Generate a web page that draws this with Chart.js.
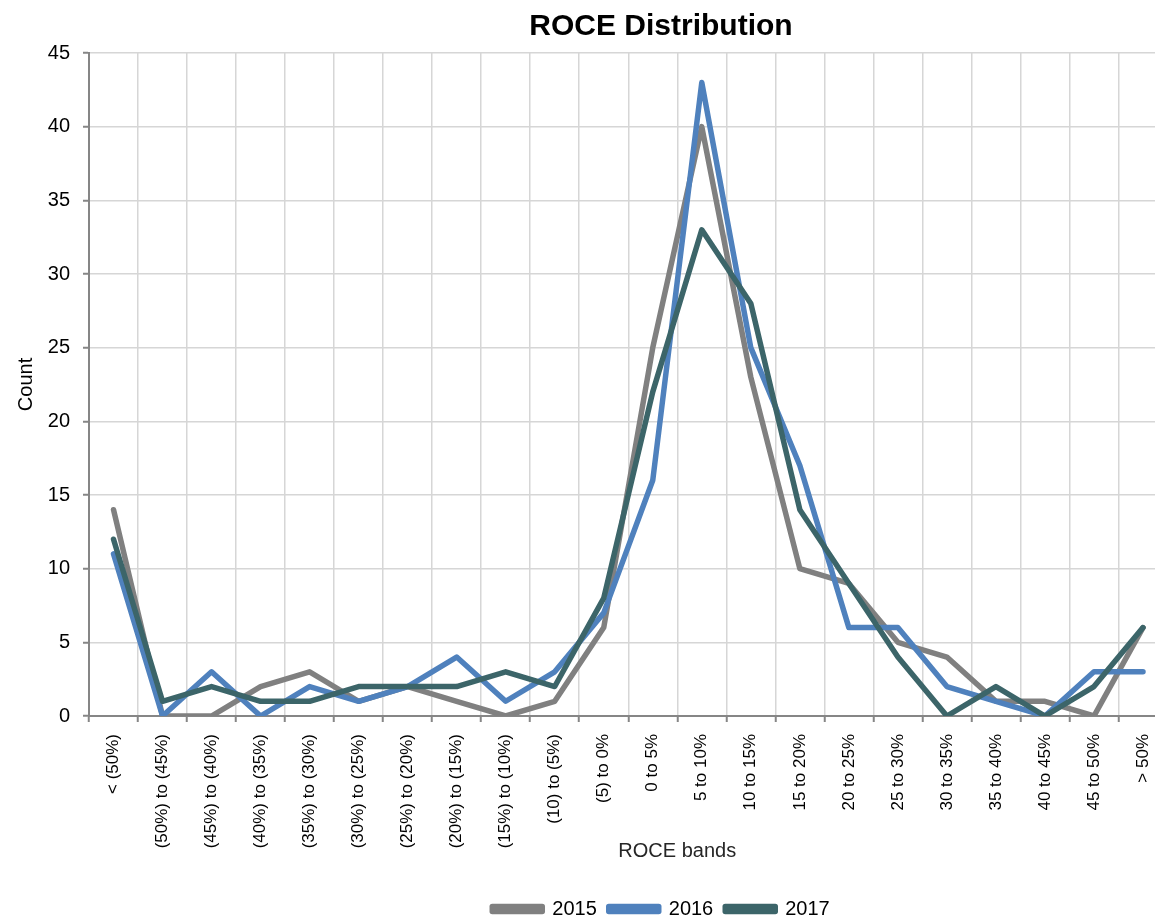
<!DOCTYPE html>
<html>
<head>
<meta charset="utf-8">
<script src="https://cdn.jsdelivr.net/npm/chart.js@4/dist/chart.umd.min.js"></script>
<style>
  html, body { margin: 0; padding: 0; background: #ffffff; overflow: hidden; }
  #wrap { width: 1322px; height: 916px; }
</style>
</head>
<body>
<div id="wrap"><canvas id="roce" width="1322" height="916"></canvas></div>
<script>
// ROCE bands (category axis)
const categories = [
  '< (50%)', '(50%) to (45%)', '(45%) to (40%)', '(40%) to (35%)', '(35%) to (30%)',
  '(30%) to (25%)', '(25%) to (20%)', '(20%) to (15%)', '(15%) to (10%)', '(10) to (5%)',
  '(5) to 0%', '0 to 5%', '5 to 10%', '10 to 15%', '15 to 20%', '20 to 25%',
  '25 to 30%', '30 to 35%', '35 to 40%', '40 to 45%', '45 to 50%', '> 50%'
];

// Company counts per band, by year
const counts2015 = [14, 0, 0, 2, 3, 1, 2, 1, 0, 1, 6, 25, 40, 23, 10, 9, 5, 4, 1, 1, 0, 6];
const counts2016 = [11, 0, 3, 0, 2, 1, 2, 4, 1, 3, 7, 16, 43, 25, 17, 6, 6, 2, 1, 0, 3, 3];
const counts2017 = [12, 1, 2, 1, 1, 2, 2, 2, 3, 2, 8, 22, 33, 28, 14, 9, 4, 0, 2, 0, 2, 6];

const seriesNames = ['2015', '2016', '2017'];
const yTicks = [0, 5, 10, 15, 20, 25, 30, 35, 40, 45];

const FONT = '"Century Gothic", "Liberation Sans", Arial, sans-serif';
const AXIS_GREY = '#868686';
const GRID_GREY = '#d6d6d6';

const PLOT_BOTTOM = 716;
const BOTTOM_PAD = -13;

function lineSet(label, data, color, order) {
  return {
    label, data, order,
    borderColor: color,
    backgroundColor: color,
    borderWidth: 5.5,
    borderCapStyle: 'round',
    borderJoinStyle: 'round',
    pointRadius: 0,
    pointHoverRadius: 0,
    tension: 0,
    fill: false
  };
}

// Axis title under the rotated band labels
const bandsTitle = {
  id: 'bandsTitle',
  afterDraw(chart) {
    const x = chart.scales.x;
    const ctx = chart.ctx;
    ctx.save();
    ctx.font = '20px ' + FONT;
    ctx.fillStyle = '#262626';
    ctx.textAlign = 'center';
    ctx.textBaseline = 'middle';
    ctx.fillText('ROCE bands', (x.getPixelForValue(11) + x.getPixelForValue(12)) / 2, 851);
    ctx.restore();
  }
};

new Chart(document.getElementById('roce'), {
  type: 'line',
  data: {
    labels: categories,
    datasets: [
      lineSet(seriesNames[0], counts2015, '#808080', 2),
      lineSet(seriesNames[1], counts2016, '#4f81bd', 1),
      lineSet(seriesNames[2], counts2017, '#3c6569', 0)
    ]
  },
  options: {
    responsive: false,
    animation: false,
    devicePixelRatio: 1,
    layout: { padding: { left: 0, right: 0, top: 0, bottom: BOTTOM_PAD } },
    plugins: {
      tooltip: { enabled: false },
      title: {
        display: true,
        text: 'ROCE Distribution',
        color: '#000000',
        font: { family: FONT, size: 30, weight: 'bold', lineHeight: 1.2 },
        padding: { top: 9, bottom: 8 }
      },
      legend: {
        display: true,
        position: 'bottom',
        labels: {
          color: '#000000',
          font: { family: FONT, size: 20 },
          boxWidth: 50,
          boxHeight: 5,
          padding: 12,
          sort: (a, b) => a.datasetIndex - b.datasetIndex
        }
      }
    },
    scales: {
      x: {
        type: 'category',
        offset: true,
        grid: {
          display: true,
          offset: true,
          color: GRID_GREY,
          lineWidth: 1.5,
          drawTicks: true,
          tickLength: 6,
          tickColor: AXIS_GREY,
          tickWidth: 2
        },
        border: { display: true, color: AXIS_GREY, width: 2 },
        ticks: {
          autoSkip: false,
          minRotation: 90,
          maxRotation: 90,
          padding: 12,
          color: '#000000',
          font: { family: FONT, size: 17 }
        },
        afterFit(scale) {
          const c = scale.chart;
          const legendH = c.legend ? c.legend.height : 0;
          scale.height = c.height - BOTTOM_PAD - PLOT_BOTTOM - legendH;
        }
      },
      y: {
        type: 'linear',
        position: 'left',
        min: 0,
        max: 45,
        afterBuildTicks(scale) {
          scale.ticks = yTicks.map(v => ({ value: v }));
        },
        grid: {
          color: GRID_GREY,
          lineWidth: 1.5,
          drawTicks: true,
          tickLength: 6,
          tickColor: AXIS_GREY,
          tickWidth: 2
        },
        border: { display: true, color: AXIS_GREY, width: 2 },
        ticks: {
          padding: 13,
          color: '#000000',
          font: { family: FONT, size: 20 }
        },
        title: {
          display: true,
          text: 'Count',
          color: '#000000',
          font: { family: FONT, size: 20 },
          padding: { top: 14, bottom: 0 }
        },
        afterFit(scale) {
          scale.width = 89;
        }
      },
      // empty right-hand margin axis that leaves room beside the plot
      margin: {
        type: 'linear',
        position: 'right',
        display: true,
        grid: { display: false, drawTicks: false },
        border: { display: false },
        ticks: { display: false },
        afterFit(scale) {
          scale.width = 154.5;
        }
      }
    }
  },
  plugins: [bandsTitle]
});
</script>
</body>
</html>
